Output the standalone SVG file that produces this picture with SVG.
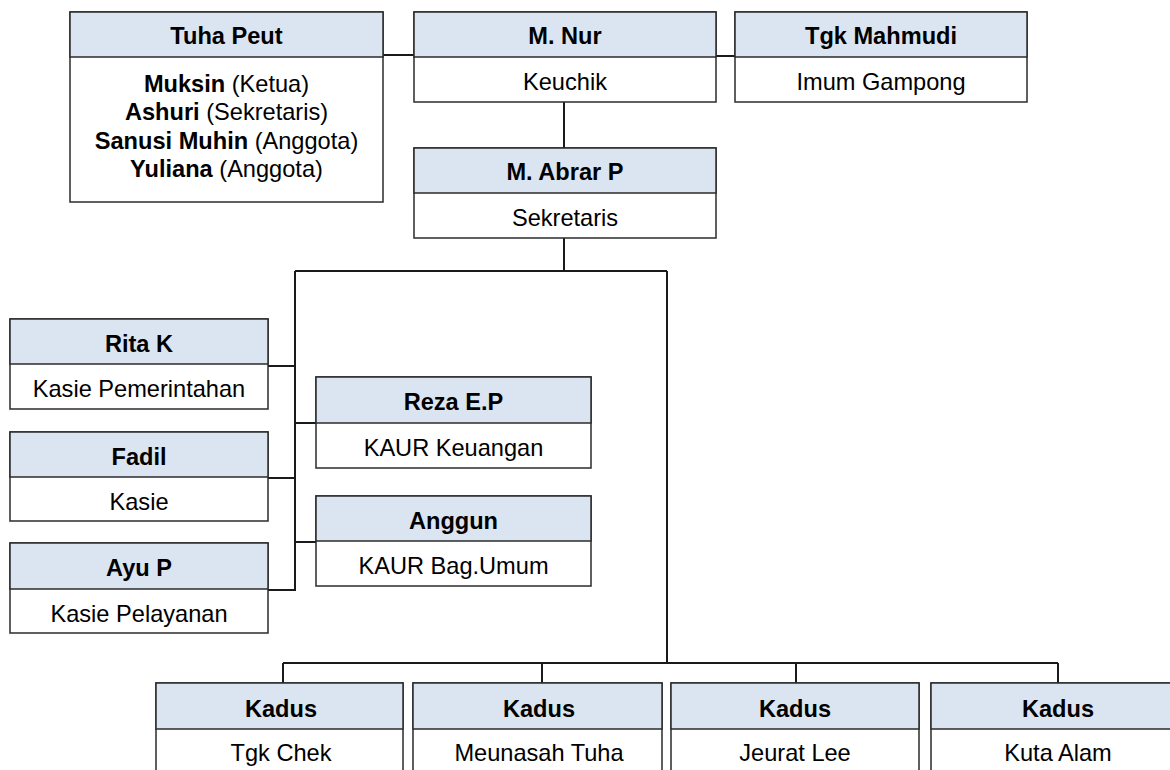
<svg xmlns="http://www.w3.org/2000/svg" width="1170" height="770" viewBox="0 0 1170 770">
<style>
.box{fill:#ffffff;stroke:#2b2b2b;stroke-width:1.5}
.hd{fill:#dbe5f1;stroke:#2b2b2b;stroke-width:1.5}
text{font-family:"Liberation Sans",Arial,sans-serif;font-size:23.6px;fill:#000;text-anchor:middle}
.b{font-weight:bold}
.c{fill:none;stroke:#1a1a1a;stroke-width:2}
</style>
<rect width="1170" height="770" fill="#ffffff"/>
<g id="connectors">
<line class="c" x1="383" y1="55" x2="414" y2="55"/>
<line class="c" x1="716" y1="56" x2="735" y2="56"/>
<line class="c" x1="564" y1="102" x2="564" y2="148"/>
<polyline class="c" points="564,238 564,271"/>
<line class="c" x1="295" y1="271" x2="667" y2="271"/>
<line class="c" x1="295" y1="271" x2="295" y2="591"/>
<line class="c" x1="667" y1="271" x2="667" y2="663"/>
<line class="c" x1="268" y1="366" x2="295" y2="366"/>
<line class="c" x1="295" y1="423" x2="316" y2="423"/>
<line class="c" x1="268" y1="478" x2="295" y2="478"/>
<line class="c" x1="295" y1="542" x2="316" y2="542"/>
<line class="c" x1="268" y1="590" x2="295" y2="590"/>
<line class="c" x1="283" y1="663" x2="1058" y2="663"/>
<line class="c" x1="283" y1="663" x2="283" y2="683"/>
<line class="c" x1="542" y1="663" x2="542" y2="683"/>
<line class="c" x1="796" y1="663" x2="796" y2="683"/>
<line class="c" x1="1058" y1="663" x2="1058" y2="683"/>
</g>
<g id="tuha-peut">
<rect class="box" x="70" y="12" width="313" height="190"/>
<rect class="hd" x="70" y="12" width="313" height="45"/>
<text x="226.5" y="44" class="b">Tuha Peut</text>
<text x="226.5" y="92"><tspan class="b">Muksin</tspan> (Ketua)</text>
<text x="226.5" y="120"><tspan class="b">Ashuri</tspan> (Sekretaris)</text>
<text x="226.5" y="149"><tspan class="b">Sanusi Muhin</tspan> (Anggota)</text>
<text x="226.5" y="177"><tspan class="b">Yuliana</tspan> (Anggota)</text>
</g>
<g id="m-nur">
<rect class="box" x="414" y="12" width="302" height="90"/>
<rect class="hd" x="414" y="12" width="302" height="45"/>
<text x="565" y="44" class="b">M. Nur</text>
<text x="565" y="90">Keuchik</text>
</g>
<g id="tgk-mahmudi">
<rect class="box" x="735" y="12" width="292" height="90"/>
<rect class="hd" x="735" y="12" width="292" height="45"/>
<text x="881" y="44" class="b">Tgk Mahmudi</text>
<text x="881" y="90">Imum Gampong</text>
</g>
<g id="m-abrar">
<rect class="box" x="414" y="148" width="302" height="90"/>
<rect class="hd" x="414" y="148" width="302" height="45"/>
<text x="565" y="180" class="b">M. Abrar P</text>
<text x="565" y="226">Sekretaris</text>
</g>
<g id="rita">
<rect class="box" x="10" y="319" width="258" height="90"/>
<rect class="hd" x="10" y="319" width="258" height="45"/>
<text x="139" y="352" class="b">Rita K</text>
<text x="139" y="397">Kasie Pemerintahan</text>
</g>
<g id="fadil">
<rect class="box" x="10" y="432" width="258" height="89"/>
<rect class="hd" x="10" y="432" width="258" height="45"/>
<text x="139" y="465" class="b">Fadil</text>
<text x="139" y="510">Kasie</text>
</g>
<g id="ayu">
<rect class="box" x="10" y="543" width="258" height="90"/>
<rect class="hd" x="10" y="543" width="258" height="46"/>
<text x="139" y="576" class="b">Ayu P</text>
<text x="139" y="622">Kasie Pelayanan</text>
</g>
<g id="reza">
<rect class="box" x="316" y="377" width="275" height="91"/>
<rect class="hd" x="316" y="377" width="275" height="46"/>
<text x="453.5" y="410" class="b">Reza E.P</text>
<text x="453.5" y="456">KAUR Keuangan</text>
</g>
<g id="anggun">
<rect class="box" x="316" y="496" width="275" height="90"/>
<rect class="hd" x="316" y="496" width="275" height="45"/>
<text x="453.5" y="529" class="b">Anggun</text>
<text x="453.5" y="574">KAUR Bag.Umum</text>
</g>
<g id="kadus-1">
<rect class="box" x="156" y="683" width="247" height="110"/>
<rect class="hd" x="156" y="683" width="247" height="46"/>
<text x="281" y="717" class="b">Kadus</text>
<text x="281" y="761">Tgk Chek</text>
</g>
<g id="kadus-2">
<rect class="box" x="413" y="683" width="249" height="110"/>
<rect class="hd" x="413" y="683" width="249" height="46"/>
<text x="539" y="717" class="b">Kadus</text>
<text x="539" y="761">Meunasah Tuha</text>
</g>
<g id="kadus-3">
<rect class="box" x="671" y="683" width="248" height="110"/>
<rect class="hd" x="671" y="683" width="248" height="46"/>
<text x="795" y="717" class="b">Kadus</text>
<text x="795" y="761">Jeurat Lee</text>
</g>
<g id="kadus-4">
<rect class="box" x="931" y="683" width="254" height="110"/>
<rect class="hd" x="931" y="683" width="254" height="46"/>
<text x="1058" y="717" class="b">Kadus</text>
<text x="1058" y="761">Kuta Alam</text>
</g>
</svg>
